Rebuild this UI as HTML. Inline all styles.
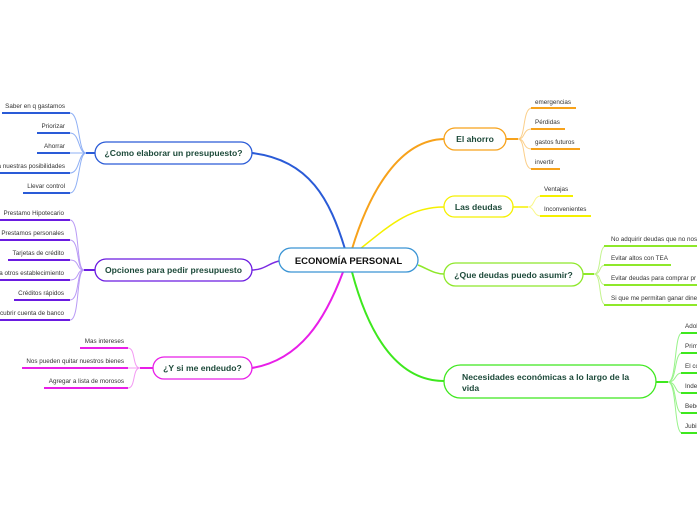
<!DOCTYPE html>
<html><head><meta charset="utf-8"><style>
html,body{margin:0;padding:0;background:#fff;}
svg{display:block;font-family:"Liberation Sans",sans-serif;}
.c{font-size:6.3px;fill:#333;}
.n{font-size:8.6px;font-weight:bold;fill:#1d4a3a;}
</style></head><body>
<svg width="697" height="520" viewBox="0 0 697 520" xmlns="http://www.w3.org/2000/svg">
<!-- main connectors -->
<path d="M252,153 C310,160 330,200 345,249" fill="none" stroke="#2a5bd7" stroke-width="2"/>
<path d="M252,270 C265,270 270,262 280,261" fill="none" stroke="#7b2be2" stroke-width="1.5"/>
<path d="M252,368 C300,360 325,320 343,272" fill="none" stroke="#e81ee8" stroke-width="2"/>
<path d="M352,249 C370,190 400,140 444,139" fill="none" stroke="#f7a21b" stroke-width="2"/>
<path d="M360,249 C390,225 410,207 444,207" fill="none" stroke="#f5f000" stroke-width="1.5"/>
<path d="M418,265 C430,270 435,274 444,274" fill="none" stroke="#8ee82a" stroke-width="1.5"/>
<path d="M352,272 C370,340 400,381 444,381" fill="none" stroke="#3ee81e" stroke-width="2"/>

<!-- center -->
<rect x="279" y="248" width="139" height="24" rx="12" fill="#fff" stroke="#3a94d4" stroke-width="1.3"/>
<text x="348.5" y="264" text-anchor="middle" font-size="9.5" font-weight="bold" fill="#111">ECONOMÍA PERSONAL</text>

<!-- blue node -->
<g fill="none" stroke="#2a5bd7">
<path d="M95,153 H86" stroke-width="2"/>
<g stroke="#8fb0f5" stroke-width="1">
<path d="M86,153 C78,153 80,113 70,113"/><path d="M86,153 C78,153 80,133 70,133"/><path d="M86,153 C78,153 80,153 70,153"/><path d="M86,153 C78,153 80,173 70,173"/><path d="M86,153 C78,153 80,193 70,193"/>
</g>
<g stroke-width="2"><path d="M2,113H70"/><path d="M37,133H70"/><path d="M37,153H70"/><path d="M0,173H70"/><path d="M23,193H70"/></g>
</g>
<rect x="95" y="142" width="157" height="22" rx="11" fill="#fff" stroke="#2a5bd7" stroke-width="1.3"/>
<text class="n" x="173.5" y="156" text-anchor="middle">¿Como elaborar un presupuesto?</text>
<g class="c" text-anchor="end">
<text x="65" y="108">Saber en q gastamos</text><text x="65" y="128">Priorizar</text><text x="65" y="148">Ahorrar</text><text x="65" y="168">a nuestras posibilidades</text><text x="65" y="188">Llevar control</text>
</g>

<!-- purple node -->
<g fill="none" stroke="#6a1be0">
<path d="M95,270 H84" stroke-width="2"/>
<g stroke="#b99af5" stroke-width="1">
<path d="M84,270 C76,270 80,220 70,220"/><path d="M84,270 C76,270 80,240 70,240"/><path d="M84,270 C76,270 80,260 70,260"/><path d="M84,270 C76,270 80,280 70,280"/><path d="M84,270 C76,270 80,300 70,300"/><path d="M84,270 C76,270 80,320 70,320"/>
</g>
<g stroke-width="2"><path d="M0,220H70"/><path d="M0,240H70"/><path d="M8,260H70"/><path d="M0,280H70"/><path d="M14,300H70"/><path d="M0,320H70"/></g>
</g>
<rect x="95" y="259" width="157" height="22" rx="11" fill="#fff" stroke="#6a1be0" stroke-width="1.3"/>
<text class="n" x="173.5" y="273" text-anchor="middle">Opciones para pedir presupuesto</text>
<g class="c" text-anchor="end">
<text x="64" y="215">Prestamo Hipotecario</text><text x="64" y="235">Prestamos personales</text><text x="64" y="255">Tarjetas de crédito</text><text x="64" y="275">a otros establecimiento</text><text x="64" y="295">Créditos rápidos</text><text x="64" y="315">cubrir cuenta de banco</text>
</g>

<!-- magenta node -->
<g fill="none" stroke="#e81ee8">
<path d="M153,368 H140" stroke-width="2"/>
<g stroke="#f39af3" stroke-width="1">
<path d="M140,368 C132,368 136,348 128,348"/><path d="M140,368 H128"/><path d="M140,368 C132,368 136,388 128,388"/>
</g>
<g stroke-width="2"><path d="M80,348H128"/><path d="M22,368H128"/><path d="M44,388H128"/></g>
</g>
<rect x="153" y="357" width="99" height="22" rx="11" fill="#fff" stroke="#e81ee8" stroke-width="1.3"/>
<text class="n" x="202.5" y="371" text-anchor="middle">¿Y si me endeudo?</text>
<g class="c" text-anchor="end">
<text x="124" y="343">Mas intereses</text><text x="124" y="363">Nos pueden quitar nuestros bienes</text><text x="124" y="383">Agregar a lista de morosos</text>
</g>

<!-- orange -->
<g fill="none" stroke="#f7a21b">
<path d="M506,139 H518" stroke-width="2"/>
<g stroke="#fbcf8a" stroke-width="1">
<path d="M518,139 C526,139 522,108 532,108"/><path d="M518,139 C526,139 522,129 532,129"/><path d="M518,139 C526,139 522,149 532,149"/><path d="M518,139 C526,139 522,169 532,169"/>
</g>
<g stroke-width="2"><path d="M531,108H576"/><path d="M531,129H565"/><path d="M531,149H580"/><path d="M531,169H560"/></g>
</g>
<rect x="444" y="128" width="62" height="22" rx="11" fill="#fff" stroke="#f7a21b" stroke-width="1.3"/>
<text class="n" x="475" y="142" text-anchor="middle">El ahorro</text>
<g class="c"><text x="535" y="104">emergencias</text><text x="535" y="124">Pérdidas</text><text x="535" y="144">gastos futuros</text><text x="535" y="164">invertir</text></g>

<!-- yellow -->
<g fill="none" stroke="#f5f000">
<path d="M513,207 H528" stroke-width="1.5"/>
<g stroke="#f9f78a" stroke-width="1"><path d="M528,207 C535,207 533,196 541,196"/><path d="M528,207 C535,207 533,216 541,216"/></g>
<g stroke-width="2"><path d="M540,196H573"/><path d="M540,216H591"/></g>
</g>
<rect x="444" y="196" width="69" height="21" rx="10.5" fill="#fff" stroke="#f5f000" stroke-width="1.3"/>
<text class="n" x="478.5" y="210" text-anchor="middle">Las deudas</text>
<g class="c"><text x="544" y="191">Ventajas</text><text x="544" y="211">Inconvenientes</text></g>

<!-- lime -->
<g fill="none" stroke="#8ee82a">
<path d="M583,274 H594" stroke-width="2"/>
<g stroke="#c4f38f" stroke-width="1">
<path d="M594,274 C602,274 598,246 606,246"/><path d="M594,274 C602,274 598,265 606,265"/><path d="M594,274 C602,274 598,285 606,285"/><path d="M594,274 C602,274 598,305 606,305"/>
</g>
<g stroke-width="2"><path d="M604,246H697"/><path d="M604,265H671"/><path d="M604,285H697"/><path d="M604,305H697"/></g>
</g>
<rect x="444" y="263" width="139" height="23" rx="11.5" fill="#fff" stroke="#8ee82a" stroke-width="1.3"/>
<text class="n" x="513.5" y="278" text-anchor="middle">¿Que deudas puedo asumir?</text>
<g class="c"><text x="611" y="241">No adquirir deudas que no nos</text><text x="611" y="260">Evitar altos con TEA</text><text x="611" y="280">Evitar deudas para comprar pr</text><text x="611" y="300">Si que me permitan ganar dine</text></g>

<!-- green -->
<g fill="none" stroke="#3ee81e">
<path d="M656,382 H668" stroke-width="2"/>
<g stroke="#98f38a" stroke-width="1">
<path d="M668,382 C677,382 674,333 682,333"/><path d="M668,382 C677,382 674,353 682,353"/><path d="M668,382 C677,382 674,373 682,373"/><path d="M668,382 C677,382 674,393 682,393"/><path d="M668,382 C677,382 674,413 682,413"/><path d="M668,382 C677,382 674,433 682,433"/>
</g>
<g stroke-width="2"><path d="M681,333H697"/><path d="M681,353H697"/><path d="M681,373H697"/><path d="M681,393H697"/><path d="M681,413H697"/><path d="M681,433H697"/></g>
</g>
<rect x="444" y="365" width="212" height="33" rx="16.5" fill="#fff" stroke="#3ee81e" stroke-width="1.3"/>
<text class="n" x="462" y="380">Necesidades económicas a lo largo de la</text>
<text class="n" x="462" y="391">vida</text>
<g class="c"><text x="685" y="328">Adolescencia</text><text x="685" y="348">Primeros</text><text x="685" y="368">El co</text><text x="685" y="388">Independencia</text><text x="685" y="408">Bebe</text><text x="685" y="428">Jubilación</text></g>
</svg>
</body></html>
